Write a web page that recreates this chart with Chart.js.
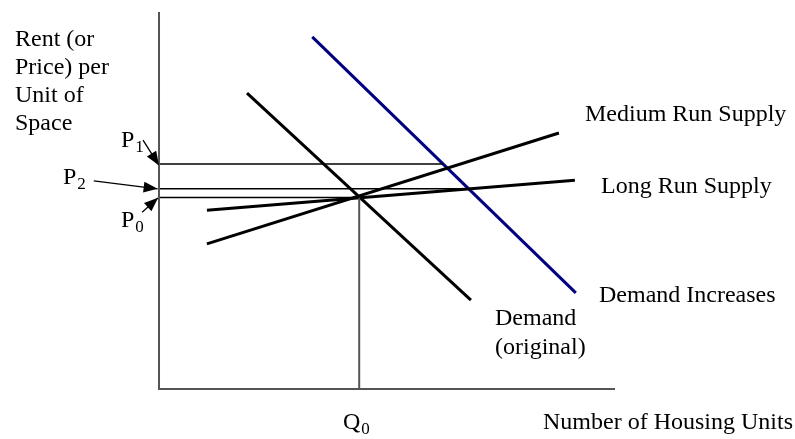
<!DOCTYPE html>
<html>
<head>
<meta charset="utf-8">
<script src="https://cdn.jsdelivr.net/npm/chart.js@4/dist/chart.umd.min.js"></script>
<style>
  html, body { margin: 0; padding: 0; background: #fff; }
  #wrap { width: 795px; height: 439px; }
</style>
</head>
<body>
<div id="wrap"><canvas id="chart"></canvas></div>
<script>
// curves: [x, y] in arbitrary quantity / rent units
const demandOriginal = [[19.3, 78.5], [68.4, 23.6]]
const demandIncreased = [[33.6, 93.4], [91.4, 25.5]]
const mediumRunSupply = [[10.5, 38.5], [87.7, 67.9]]
const longRunSupply = [[10.5, 47.4], [91.2, 55.4]]

// equilibrium points
const q0 = 43.9
const p0 = 50.8
const p1 = 59.7
const p2 = 53.1
const p1End = 62.3   // where P1 meets the new demand
const p2End = 67.9   // where P2 meets long run supply

// axis extents
const xAxisEnd = 100
const yAxisEnd = 100

const toPts = arr => arr.map(p => ({ x: p[0], y: p[1] }))

// text goes in pixel space, drawn by the plugin below
const serif = '"Liberation Serif", "Times New Roman", serif'
const labels = [
  { t: 'Rent (or', x: 15, y: 46 },
  { t: 'Price) per', x: 15, y: 74 },
  { t: 'Unit of', x: 15, y: 102 },
  { t: 'Space', x: 15, y: 130 },
  { t: 'Medium Run Supply', x: 585, y: 121 },
  { t: 'Long Run Supply', x: 601, y: 193 },
  { t: 'Demand Increases', x: 599, y: 302 },
  { t: 'Demand', x: 495, y: 325 },
  { t: '(original)', x: 495, y: 354 },
  { t: 'Number of Housing Units', x: 543, y: 429 },
  { t: 'P', sub: '1', x: 121, y: 147 },
  { t: 'P', sub: '2', x: 63, y: 184 },
  { t: 'P', sub: '0', x: 121, y: 227 },
  { t: 'Q', sub: '0', x: 343, y: 429 }
]

const textPlugin = {
  id: 'texts',
  afterDraw(chart) {
    const ctx = chart.ctx
    ctx.save()
    ctx.fillStyle = '#000'
    ctx.textBaseline = 'alphabetic'
    labels.forEach(l => {
      ctx.font = '24px ' + serif
      ctx.fillText(l.t, l.x, l.y)
      if (l.sub) {
        const w = ctx.measureText(l.t).width
        ctx.font = '17px ' + serif
        ctx.fillText(l.sub, l.x + w + 1, l.y + 5)
      }
    })
    ctx.restore()
  }
}

// filled arrow heads on the last point of datasets flagged arrow
const arrowPlugin = {
  id: 'arrows',
  afterDatasetsDraw(chart) {
    const ctx = chart.ctx
    const xs = chart.scales.x, ys = chart.scales.y
    chart.data.datasets.forEach(ds => {
      if (!ds.arrow) return
      const a = ds.data[0], b = ds.data[ds.data.length - 1]
      const ax = xs.getPixelForValue(a.x), ay = ys.getPixelForValue(a.y)
      const bx = xs.getPixelForValue(b.x), by = ys.getPixelForValue(b.y)
      const ang = Math.atan2(by - ay, bx - ax)
      const len = 14, half = 5.5
      ctx.save()
      ctx.fillStyle = '#000'
      ctx.beginPath()
      ctx.moveTo(bx, by)
      ctx.lineTo(bx - len * Math.cos(ang) + half * Math.sin(ang), by - len * Math.sin(ang) - half * Math.cos(ang))
      ctx.lineTo(bx - len * Math.cos(ang) - half * Math.sin(ang), by - len * Math.sin(ang) + half * Math.cos(ang))
      ctx.closePath()
      ctx.fill()
      ctx.restore()
    })
  }
}

const line = (data, color, width, extra) => Object.assign({
  data: data, borderColor: color, borderWidth: width,
  showLine: true, pointRadius: 0, fill: false, tension: 0
}, extra || {})

new Chart(document.getElementById('chart'), {
  type: 'scatter',
  data: {
    datasets: [
      // axes
      line([{ x: 0, y: yAxisEnd }, { x: 0, y: 0 }, { x: xAxisEnd, y: 0 }], '#555', 2),
      // guide lines
      line([{ x: 0, y: p1 }, { x: p1End, y: p1 }], '#000', 1.4),
      line([{ x: 0, y: p2 }, { x: p2End, y: p2 }], '#000', 1.4),
      line([{ x: 0, y: p0 }, { x: q0, y: p0 }], '#000', 1.4),
      line([{ x: q0, y: p0 }, { x: q0, y: 0 }], '#555', 2),
      // curves
      line(toPts(longRunSupply), '#000', 3),
      line(toPts(mediumRunSupply), '#000', 3),
      line(toPts(demandOriginal), '#000', 3),
      line(toPts(demandIncreased), '#000080', 3),
      // arrows to the price levels
      line([{ x: -3.5, y: 66.0 }, { x: 0, y: p1 - 0.4 }], '#000', 1.3, { arrow: true }),
      line([{ x: -14.3, y: 55.2 }, { x: -0.3, y: p2 }], '#000', 1.3, { arrow: true }),
      line([{ x: -3.7, y: 46.9 }, { x: -0.2, y: p0 - 0.1 }], '#000', 1.3, { arrow: true })
    ]
  },
  options: {
    responsive: true,
    maintainAspectRatio: false,
    animation: false,
    layout: { padding: 0 },
    plugins: { legend: { display: false }, tooltip: { enabled: false } },
    scales: {
      x: { type: 'linear', display: false, min: -34.87, max: 139.47 },
      y: { type: 'linear', display: false, min: -13.26, max: 103.18 }
    }
  },
  plugins: [arrowPlugin, textPlugin]
});
</script>
</body>
</html>
